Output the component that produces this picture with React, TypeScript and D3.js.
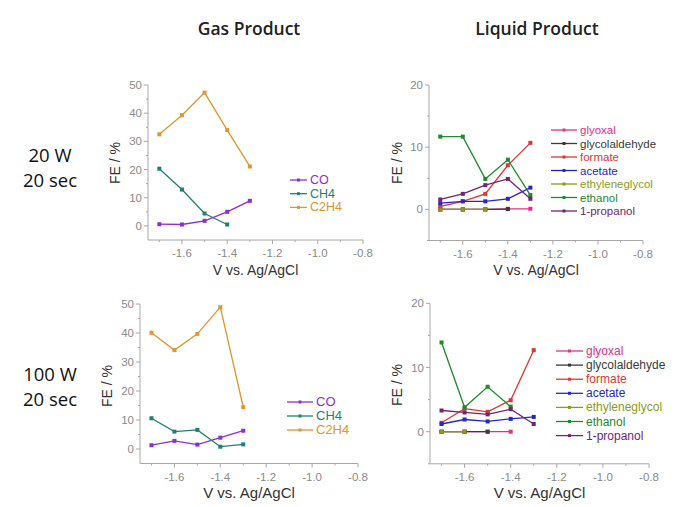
import React from "react";
import * as d3 from "d3";

const voltages = [-1.7, -1.6, -1.5, -1.4, -1.3];

const gasNames = ["CO", "CH4", "C2H4"];
const gasColors = ["#8a2fd6", "#1f7f73", "#e0952f"];
const co20 = [0.6, 0.5, 1.8, 5.0, 8.9];
const ch4_20 = [20.3, 12.9, 4.4, 0.5, null];
const c2h4_20 = [32.5, 39.3, 47.3, 34.0, 21.1];
const co100 = [1.3, 2.8, 1.5, 3.9, 6.3];
const ch4_100 = [10.6, 6.0, 6.6, 0.8, 1.6];
const c2h4_100 = [40.1, 34.1, 39.7, 48.9, 14.4];

const liqNames = ["glyoxal", "glycolaldehyde", "formate", "acetate", "ethyleneglycol", "ethanol", "1-propanol"];
const liqColors = ["#e52f88", "#3a3a3a", "#e03535", "#2626cc", "#8c9a1e", "#1f8a2e", "#742374"];
const glyoxal20 = [0, 0, 0, 0.1, 0.1];
const glycolaldehyde20 = [0, 0, 0, 0.05, null];
const formate20 = [0.5, 1.3, 2.5, 7.1, 10.7];
const acetate20 = [1.0, 1.3, 1.3, 1.7, 3.5];
const ethyleneglycol20 = [0, 0, 0, null, null];
const ethanol20 = [11.7, 11.7, 4.9, 8.0, 2.3];
const propanol20 = [1.6, 2.5, 3.9, 4.9, 1.7];
const glyoxal100 = [0, 0, 0, 0, null];
const glycolaldehyde100 = [0, 0, 0, null, null];
const formate100 = [1.4, 3.6, 3.1, 4.9, 12.7];
const acetate100 = [1.2, 1.9, 1.6, 2.0, 2.3];
const ethyleneglycol100 = [0, 0, null, null, null];
const ethanol100 = [13.9, 3.8, 7.0, 3.9, null];
const propanol100 = [3.3, 3.0, 2.7, 3.5, 1.2];

const xTicks = [-1.6, -1.4, -1.2, -1.0, -0.8];
const xMinor = [-1.7, -1.5, -1.3, -1.1, -0.9];
const gasYTicks = [0, 10, 20, 30, 40, 50];
const liqYTicks = [0, 10, 20];

type Panel = {
  x0: number; x1: number; yTop: number; yBot: number;
  yMax: number; yTicks: number[]; yMinor: number[];
  series: (number | null)[][]; names: string[]; colors: string[];
  legX: number; legY: number; legStep: number; legLine: number; legFont: number;
  feX: number; feY: number; vY: number; vSize: number;
};

function PanelView({ p }: { p: Panel }) {
  const x = d3.scaleLinear().domain([-1.75, -0.8]).range([p.x0, p.x1]);
  const y = d3.scaleLinear().domain([-5, p.yMax]).range([p.yBot, p.yTop]);
  const line = d3
    .line<[number, number | null]>()
    .defined((d) => d[1] !== null)
    .x((d) => x(d[0]))
    .y((d) => y(d[1] as number));
  const axisColor = "#a8a8a8";
  const tickColor = "#8a8a8a";
  const drawOrder = p.names.length === 7 ? [0, 1, 4, 2, 3, 5, 6] : [0, 1, 2];
  return (
    <g>
      <line x1={p.x0} x2={p.x0} y1={p.yTop} y2={p.yBot} stroke={axisColor} strokeWidth={1} />
      <line x1={p.x0} x2={p.x1} y1={p.yBot} y2={p.yBot} stroke={axisColor} strokeWidth={1} />
      {p.yTicks.map((t) => (
        <g key={"yt" + t}>
          <line x1={p.x0 - 4} x2={p.x0} y1={y(t)} y2={y(t)} stroke={axisColor} />
          <text x={p.x0 - 6} y={y(t) + 4} textAnchor="end" fontSize={11.5} fill={tickColor}
            fontFamily="Liberation Sans, Arial, sans-serif">{t}</text>
        </g>
      ))}
      {p.yMinor.map((t) => (
        <line key={"ym" + t} x1={p.x0 - 2} x2={p.x0} y1={y(t)} y2={y(t)} stroke={axisColor} />
      ))}
      {xTicks.map((t) => (
        <g key={"xt" + t}>
          <line x1={x(t)} x2={x(t)} y1={p.yBot} y2={p.yBot + 4} stroke={axisColor} />
          <text x={x(t)} y={p.yBot + 17} textAnchor="middle" fontSize={11.5} fill={tickColor}
            fontFamily="Liberation Sans, Arial, sans-serif">{t.toFixed(1)}</text>
        </g>
      ))}
      {xMinor.map((t) => (
        <line key={"xm" + t} x1={x(t)} x2={x(t)} y1={p.yBot} y2={p.yBot + 2} stroke={axisColor} />
      ))}
      {drawOrder.map((i) => {
        const s = p.series[i];
        const pts = voltages.map((v, j) => [v, s[j]] as [number, number | null]);
        return (
          <g key={"s" + i}>
            <path d={line(pts) || ""} fill="none" stroke={p.colors[i]} strokeWidth={1.3} />
            {pts.filter((d) => d[1] !== null).map((d, j) => (
              <rect key={j} x={x(d[0]) - 2} y={y(d[1] as number) - 2} width={4} height={4} fill={p.colors[i]} />
            ))}
          </g>
        );
      })}
      {p.names.map((n, i) => {
        const ly = p.legY + i * p.legStep;
        return (
          <g key={"l" + i}>
            <line x1={p.legX} x2={p.legX + p.legLine} y1={ly} y2={ly} stroke={p.colors[i]} strokeWidth={1.3} />
            <rect x={p.legX + p.legLine / 2 - 1.5} y={ly - 1.5} width={3} height={3} fill={p.colors[i]} />
            <text x={p.legX + p.legLine + 3} y={ly + 4} fontSize={p.legFont} fill={p.colors[i]}
              fontFamily="Liberation Sans, Arial, sans-serif">{n}</text>
          </g>
        );
      })}
      <text transform={`translate(${p.feX},${p.feY}) rotate(-90)`} textAnchor="middle" fontSize={14}
        fill="#333" fontFamily="Liberation Sans, Arial, sans-serif">FE / %</text>
      <text x={(p.x0 + p.x1) / 2} y={p.vY} textAnchor="middle" fontSize={p.vSize}
        fill="#333" fontFamily="Liberation Sans, Arial, sans-serif">V vs. Ag/AgCl</text>
    </g>
  );
}

const panels: Panel[] = [
  {
    x0: 148, x1: 363, yTop: 85, yBot: 240, yMax: 50, yTicks: gasYTicks, yMinor: [5, 15, 25, 35, 45],
    series: [co20, ch4_20, c2h4_20], names: gasNames, colors: gasColors,
    legX: 290, legY: 180, legStep: 13.7, legLine: 17, legFont: 12.5,
    feX: 120, feY: 163, vY: 275, vSize: 14,
  },
  {
    x0: 429, x1: 643, yTop: 85, yBot: 240.5, yMax: 20, yTicks: liqYTicks, yMinor: [-5, 5, 15],
    series: [glyoxal20, glycolaldehyde20, formate20, acetate20, ethyleneglycol20, ethanol20, propanol20],
    names: liqNames, colors: liqColors,
    legX: 551, legY: 130, legStep: 13.5, legLine: 26, legFont: 11.5,
    feX: 402, feY: 163, vY: 275, vSize: 14,
  },
  {
    x0: 140, x1: 358, yTop: 304, yBot: 463.5, yMax: 50, yTicks: gasYTicks, yMinor: [5, 15, 25, 35, 45],
    series: [co100, ch4_100, c2h4_100], names: gasNames, colors: gasColors,
    legX: 287, legY: 402, legStep: 14, legLine: 26, legFont: 13,
    feX: 112, feY: 386, vY: 498, vSize: 15,
  },
  {
    x0: 430, x1: 649, yTop: 303.3, yBot: 463.8, yMax: 20, yTicks: liqYTicks, yMinor: [-5, 5, 15],
    series: [glyoxal100, glycolaldehyde100, formate100, acetate100, ethyleneglycol100, ethanol100, propanol100],
    names: liqNames, colors: liqColors,
    legX: 556, legY: 351, legStep: 14.1, legLine: 27, legFont: 12,
    feX: 402, feY: 385, vY: 498, vSize: 15,
  },
];

export default function App() {
  const head = "Open Sans, Noto Sans, sans-serif";
  return (
    <svg width={693} height={507} style={{ position: "absolute", left: 0, top: 0, background: "#fff" }}>
      <rect width={693} height={507} fill="#fff" />
      <text x={249} y={35} textAnchor="middle" fontSize={17.5} fontWeight={600} fill="#222" fontFamily={head}>Gas Product</text>
      <text x={537} y={35} textAnchor="middle" fontSize={17.5} fontWeight={600} fill="#222" fontFamily={head}>Liquid Product</text>
      <text x={50} y={162} textAnchor="middle" fontSize={18.5} fill="#111" fontFamily={head}>20 W</text>
      <text x={50} y={187} textAnchor="middle" fontSize={18.5} fill="#111" fontFamily={head}>20 sec</text>
      <text x={50} y={381} textAnchor="middle" fontSize={18.5} fill="#111" fontFamily={head}>100 W</text>
      <text x={50} y={406} textAnchor="middle" fontSize={18.5} fill="#111" fontFamily={head}>20 sec</text>
      {panels.map((p, i) => (
        <PanelView key={i} p={p} />
      ))}
    </svg>
  );
}
